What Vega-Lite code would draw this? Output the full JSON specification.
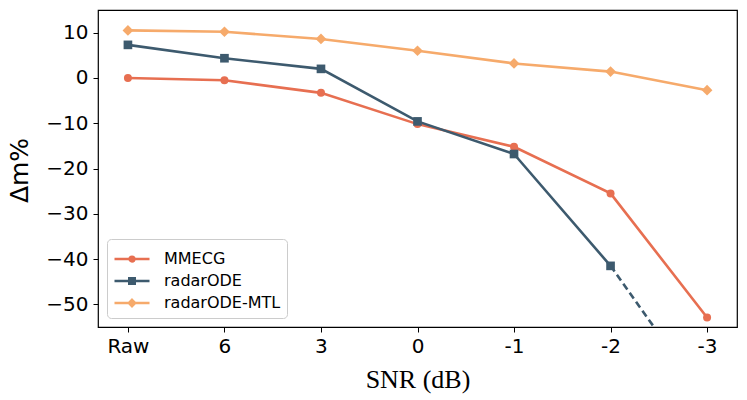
{
  "$schema": "https://vega.github.io/schema/vega-lite/v6.json",
  "width": 639,
  "height": 317,
  "autosize": {"type": "none"},
  "padding": {"left": 98, "top": 10, "right": 10, "bottom": 73},
  "background": "white",
  "config": {
    "view": {"stroke": "black", "strokeWidth": 1.2},
    "font": "DejaVu Sans"
  },
  "data": {
    "values": [
      {"series": "MMECG", "snr": "Raw", "value": 0.0},
      {"series": "MMECG", "snr": "6", "value": -0.5},
      {"series": "MMECG", "snr": "3", "value": -3.3},
      {"series": "MMECG", "snr": "0", "value": -10.2},
      {"series": "MMECG", "snr": "-1", "value": -15.2},
      {"series": "MMECG", "snr": "-2", "value": -25.5},
      {"series": "MMECG", "snr": "-3", "value": -52.9},
      {"series": "radarODE", "snr": "Raw", "value": 7.3},
      {"series": "radarODE", "snr": "6", "value": 4.35},
      {"series": "radarODE", "snr": "3", "value": 2.0},
      {"series": "radarODE", "snr": "0", "value": -9.6},
      {"series": "radarODE", "snr": "-1", "value": -16.8},
      {"series": "radarODE", "snr": "-2", "value": -41.5},
      {"series": "radarODE", "snr": "-3", "value": -71.5, "extrap": true},
      {"series": "radarODE-MTL", "snr": "Raw", "value": 10.5},
      {"series": "radarODE-MTL", "snr": "6", "value": 10.2},
      {"series": "radarODE-MTL", "snr": "3", "value": 8.6},
      {"series": "radarODE-MTL", "snr": "0", "value": 6.0},
      {"series": "radarODE-MTL", "snr": "-1", "value": 3.2},
      {"series": "radarODE-MTL", "snr": "-2", "value": 1.4},
      {"series": "radarODE-MTL", "snr": "-3", "value": -2.7}
    ]
  },
  "encoding": {
    "x": {
      "field": "snr",
      "type": "nominal",
      "sort": ["Raw", "6", "3", "0", "-1", "-2", "-3"],
      "scale": {"type": "point", "padding": 0.31},
      "axis": {
        "title": "SNR (dB)",
        "titleFont": "Liberation Serif",
        "titleFontSize": 26,
        "titleFontWeight": "normal",
        "titleColor": "black",
        "titleBaseline": "alphabetic",
        "titleY": 60,
        "labelAngle": 0,
        "labelFontSize": 20,
        "labelColor": "black",
        "labelPadding": 4,
        "tickSize": 5,
        "tickColor": "black",
        "domain": false,
        "grid": false
      }
    },
    "y": {
      "field": "value",
      "type": "quantitative",
      "scale": {"domain": [-55, 15], "nice": false, "zero": false},
      "axis": {
        "title": "Δm%",
        "titleFontSize": 25,
        "titleFontWeight": "normal",
        "titleColor": "black",
        "titleBaseline": "alphabetic",
        "titleX": -71,
        "titleY": 160,
        "values": [-50, -40, -30, -20, -10, 0, 10],
        "format": "d",
        "labelExpr": "replace(datum.label, '-', '−')",
        "labelFontSize": 20,
        "labelColor": "black",
        "labelPadding": 5,
        "tickSize": 5,
        "tickColor": "black",
        "domain": false,
        "grid": false
      }
    }
  },
  "layer": [
    {
      "transform": [{"filter": "!datum.extrap"}],
      "mark": {"type": "line", "strokeWidth": 2.6},
      "encoding": {
        "color": {
          "field": "series",
          "type": "nominal",
          "scale": {
            "domain": ["MMECG", "radarODE", "radarODE-MTL"],
            "range": ["#e76f51", "#3d5a6e", "#f6aa6b"]
          },
          "legend": {
            "title": null,
            "orient": "bottom-left",
            "offset": 9,
            "padding": 6,
            "strokeColor": "#cccccc",
            "fillColor": "white",
            "cornerRadius": 4,
            "labelFontSize": 16,
            "labelColor": "black",
            "labelOffset": 23,
            "symbolSize": 625,
            "rowPadding": 0,
            "encoding": {
              "symbols": {
                "shape": {"value": {"expr": "datum.value === 'MMECG' ? 'M-1,0H1.8M0.59,0A0.19,0.19,0,1,1,0.21,0A0.19,0.19,0,1,1,0.59,0Z' : datum.value === 'radarODE' ? 'M-1,0H1.8M0.18,-0.22H0.62V0.22H0.18Z' : 'M-1,0H1.8M0.4,-0.25L0.65,0L0.4,0.25L0.15,0Z'"}},
                "fill": {"value": {"expr": "datum.value === 'MMECG' ? '#e76f51' : datum.value === 'radarODE' ? '#3d5a6e' : '#f6aa6b'"}},
                "stroke": {"value": {"expr": "datum.value === 'MMECG' ? '#e76f51' : datum.value === 'radarODE' ? '#3d5a6e' : '#f6aa6b'"}},
                "strokeWidth": {"value": 2.5},
                "opacity": {"value": 1},
                "fillOpacity": {"value": 1}
              }
            }
          }
        },
        "detail": {"field": "series"}
      }
    },
    {
      "transform": [{"filter": "datum.series === 'radarODE' && (datum.snr === '-2' || datum.extrap)"}],
      "mark": {"type": "line", "strokeWidth": 2.6, "strokeDash": [7, 4], "clip": true, "color": "#3d5a6e"},
      "encoding": {}
    },
    {
      "transform": [{"filter": "datum.series === 'MMECG'"}],
      "mark": {"type": "point", "filled": true, "opacity": 1, "strokeWidth": 0, "shape": "circle", "size": 64, "color": "#e76f51"},
      "encoding": {}
    },
    {
      "transform": [{"filter": "datum.series === 'radarODE' && !datum.extrap"}],
      "mark": {"type": "point", "filled": true, "opacity": 1, "strokeWidth": 0, "shape": "square", "size": 75, "color": "#3d5a6e"},
      "encoding": {}
    },
    {
      "transform": [{"filter": "datum.series === 'radarODE-MTL'"}],
      "mark": {"type": "point", "filled": true, "opacity": 1, "strokeWidth": 0, "shape": "diamond", "size": 115, "color": "#f6aa6b"},
      "encoding": {}
    }
  ]
}
